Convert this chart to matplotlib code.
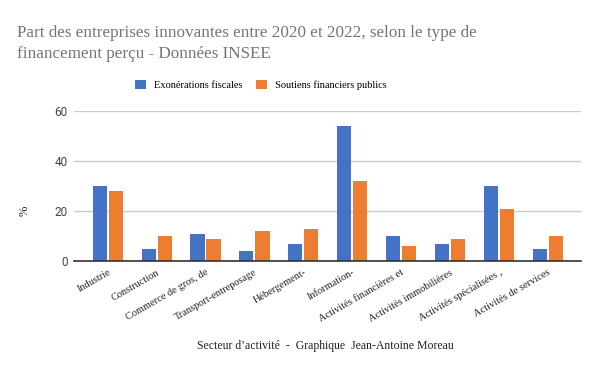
import numpy as np
import matplotlib
matplotlib.use("Agg")
from matplotlib import pyplot as plt

# données
secteurs = ["Industrie", "Construction", "Commerce de gros, de", "Transport-entreposage",
            "Hébergement-", "Information-", "Activités financières et",
            "Activités immobilières", "Activités spécialisées ,", "Activités de services"]
exonerations = [30, 5, 11, 4, 7, 54, 10, 7, 30, 5]
soutiens = [28, 10, 9, 12, 13, 32, 6, 9, 21, 10]
yticks = [0, 20, 40, 60]

serif = ["Liberation Serif", "DejaVu Serif"]
sans = ["Roboto", "DejaVu Sans"]

fig = plt.figure(figsize=(6, 3.71), dpi=100)
ax = fig.add_axes([74 / 600, 1 - 261 / 371, (581 - 74) / 600, 150 / 371])

x = np.arange(len(secteurs))
w = 0.29
ax.bar(x - 0.164, exonerations, width=w, color="#4472C4", label="Exonérations fiscales", zorder=3)
ax.bar(x + 0.164, soutiens, width=w, color="#ED7D31", label="Soutiens financiers publics", zorder=3)

ax.set_xlim(-0.69, 9.68)
ax.set_ylim(0, 60)
ax.set_yticks(yticks)
ax.set_yticklabels([str(v) for v in yticks], family=sans, fontsize=8.5, color="#444444")
ax.grid(axis="y", color="#cccccc", linewidth=1, zorder=0)
for s in ["top", "right", "left"]:
    ax.spines[s].set_visible(False)
ax.spines["bottom"].set_color("#333333")
ax.spines["bottom"].set_linewidth(1.2)
ax.spines["bottom"].set_zorder(4)
ax.tick_params(axis="both", length=0)
ax.tick_params(axis="y", pad=4.5)

ax.set_xticks(x)
ax.set_xticklabels(secteurs, family=serif, fontsize=7.5, color="#222222",
                   rotation=30, ha="right", rotation_mode="anchor")
ax.tick_params(axis="x", pad=5)

# titre des axes
fig.text(25 / 600, 1 - 211 / 371, "%", family=serif, fontsize=9, color="#222222",
         rotation=90, ha="center", va="center")
fig.text(325 / 600, 1 - 346 / 371, "Secteur d’activité  -  Graphique  Jean-Antoine Moreau",
         family=serif, fontsize=8.5, color="#222222", ha="center", va="center")

fig.text(17 / 600, 1 - 25 / 371, "Part des entreprises innovantes entre 2020 et 2022, selon le type de\nfinancement perçu - Données INSEE",
         family=serif, fontsize=12.3, color="#757575", ha="left", va="top", linespacing=1.45)

fig.legend(loc="center", bbox_to_anchor=(261 / 600, 1 - 85 / 371), ncol=2, frameon=False,
           prop={"family": serif, "size": 7.5}, handlelength=1.0, handleheight=1.0,
           columnspacing=1.3, handletextpad=0.8)

fig.savefig("out.png", dpi=100)
